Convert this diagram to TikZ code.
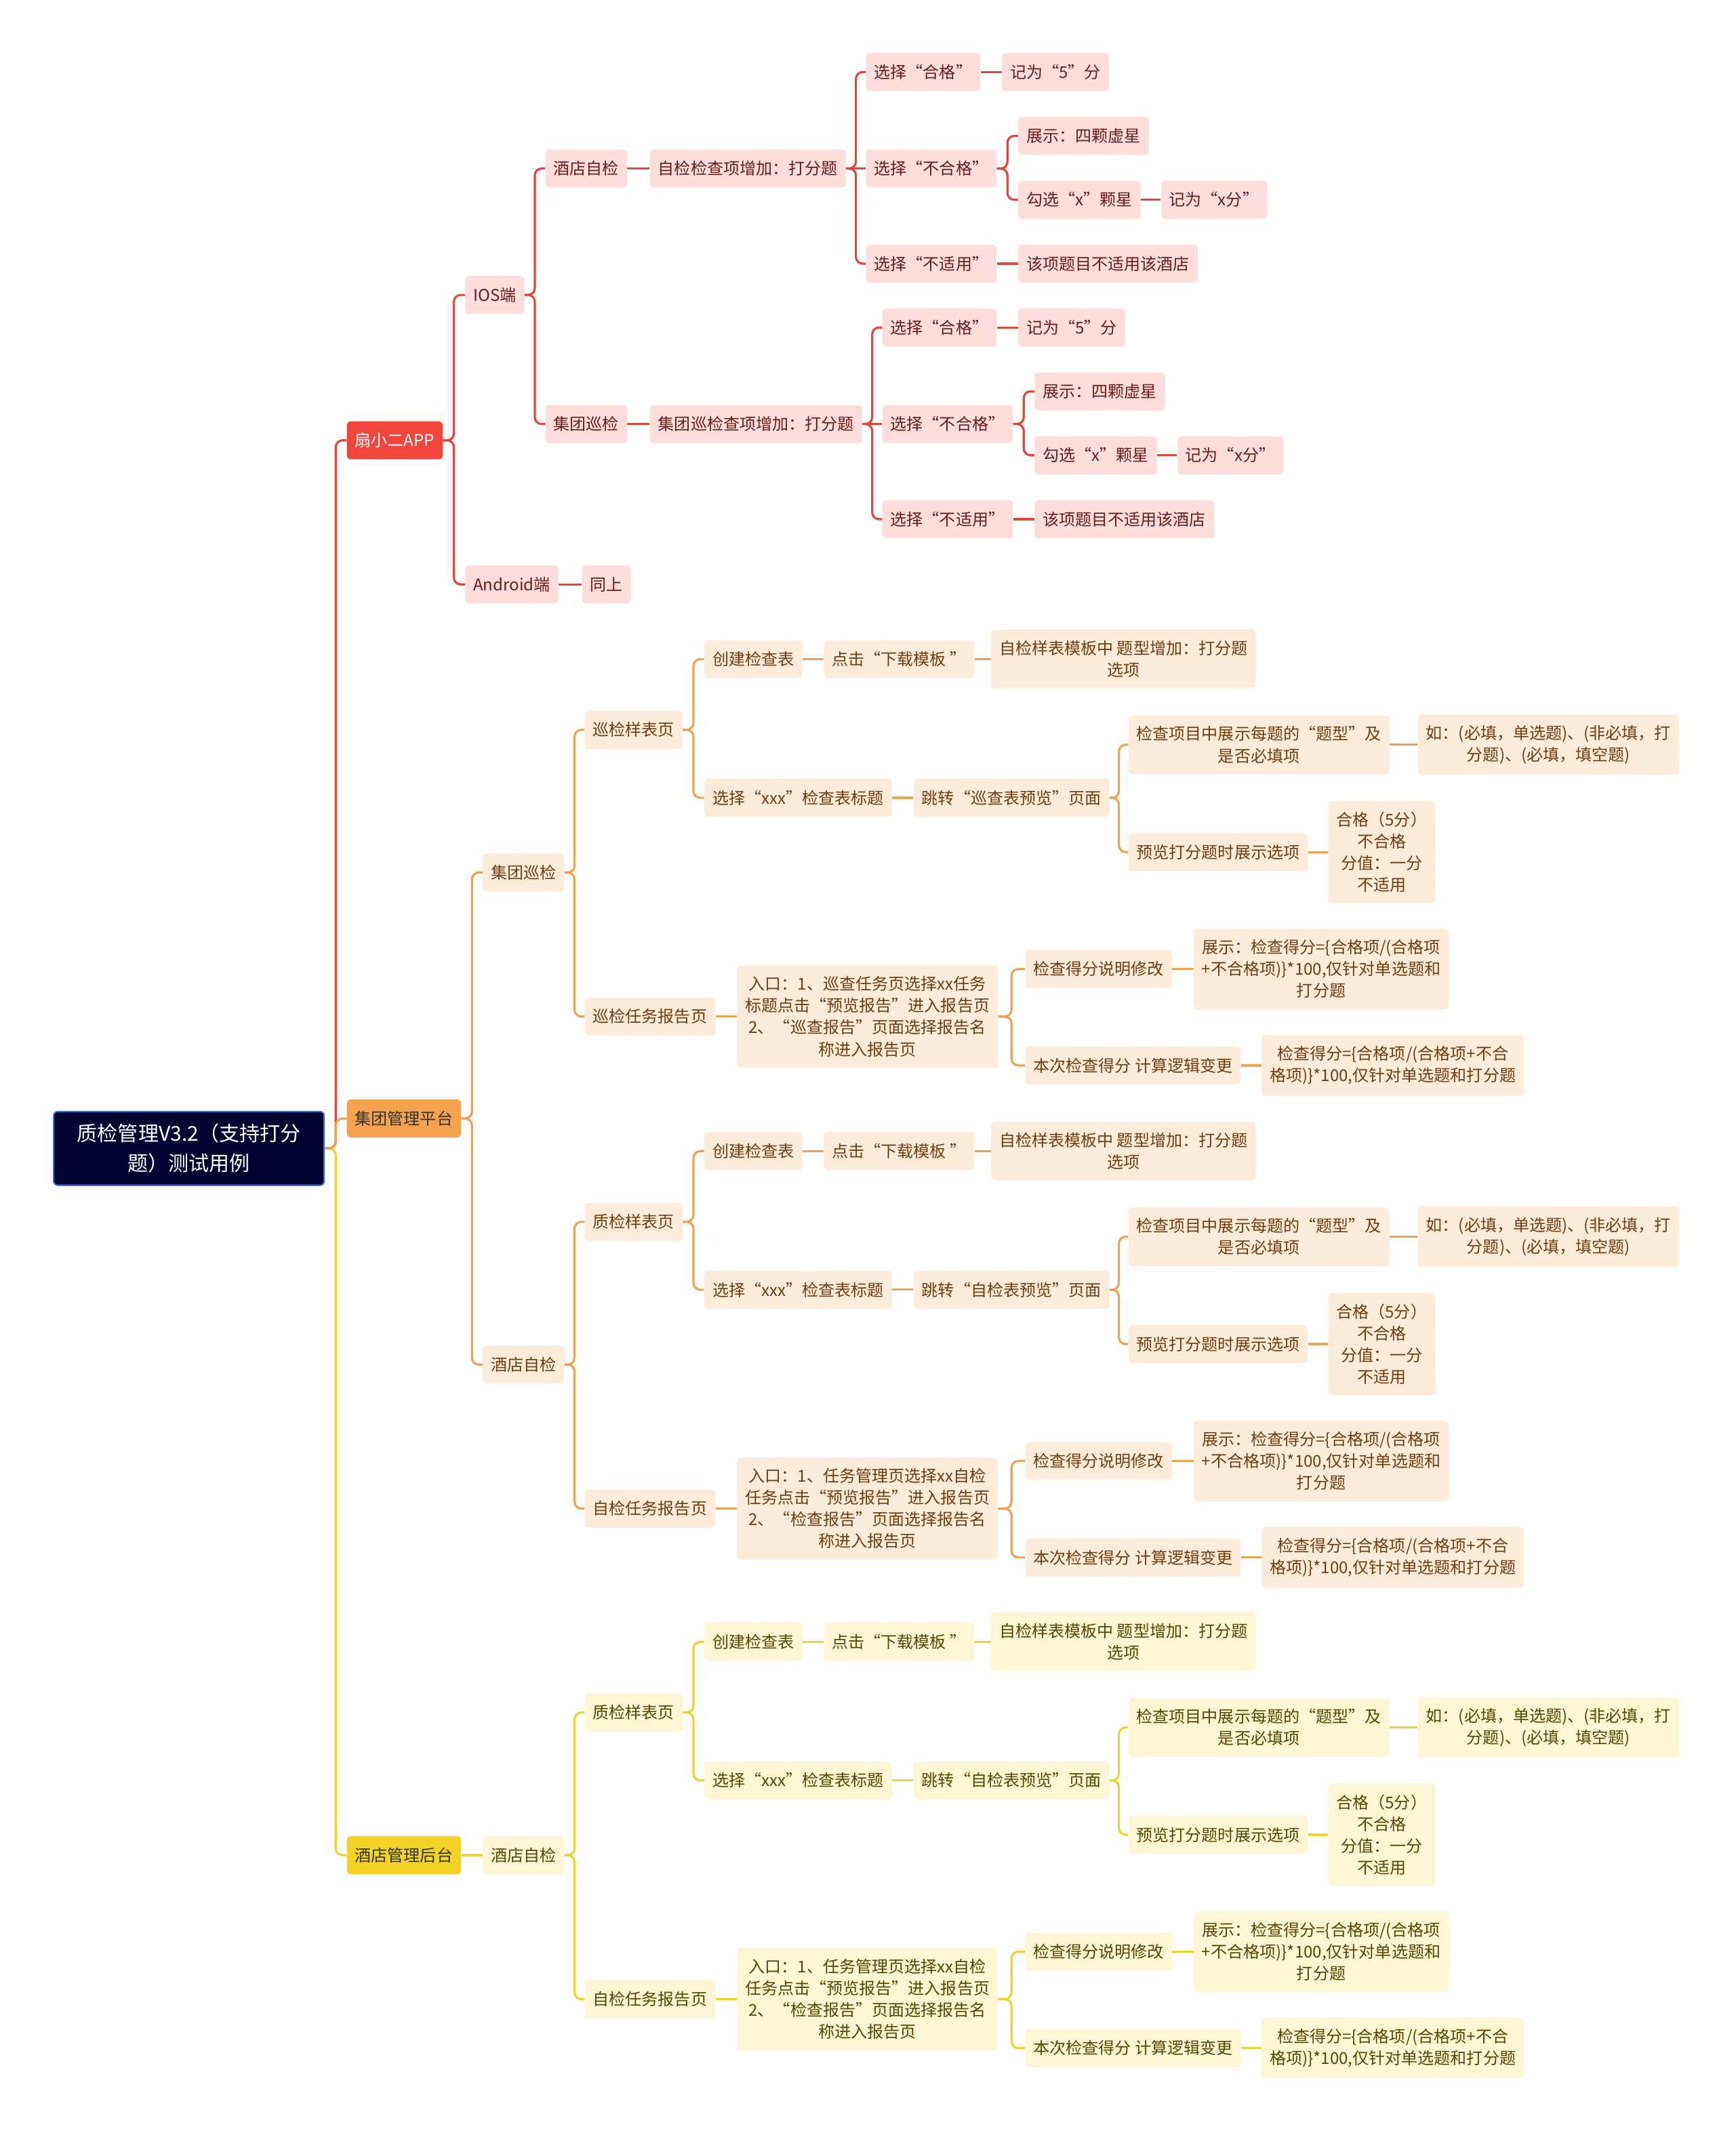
\documentclass[tikz,border=0pt]{standalone}
\usepackage{fontspec}
\setmainfont{Noto Sans CJK SC}
\usetikzlibrary{calc}

\definecolor{redM}{HTML}{F0453C}
\definecolor{redL}{HTML}{FDDEDC}
\definecolor{redT}{HTML}{6A1C18}
\definecolor{redE}{HTML}{E2463F}
\definecolor{orM}{HTML}{F4A24E}
\definecolor{orL}{HTML}{FDECDA}
\definecolor{orT}{HTML}{6E3D12}
\definecolor{orE}{HTML}{EFA254}
\definecolor{yeM}{HTML}{F2D326}
\definecolor{yeL}{HTML}{FDF6D4}
\definecolor{yeT}{HTML}{584600}
\definecolor{yeE}{HTML}{F0D22E}
\definecolor{rootF}{HTML}{03042F}
\definecolor{rootB}{HTML}{3D6FD6}

\begin{document}
\begin{tikzpicture}[
  x=1pt, y=-1pt,
  box/.style={rounded corners=3pt, inner xsep=6pt, inner ysep=8pt,
    minimum height=28pt, align=center, anchor=west,
    font=\fontsize{12}{16}\selectfont},
  sbox/.style={box, fill=#1L, text=#1T},
  mbox/.style={box, fill=#1M, text=black!80},
  link/.style={draw=#1E, line width=1.6pt, rounded corners=5pt}
]
  \useasboundingbox (0,0) rectangle (1277,1568);

  % 中心主题
  \node[box, fill=rootF, draw=rootB, line width=1pt, text=white,
    font=\fontsize{15}{22}\selectfont, minimum width=199pt, inner ysep=9pt]
    (root) at (39,845) {质检管理V3.2（支持打分\\题）测试用例};

  % 一级分支
  \node[mbox=red, text=white] (app) at (255,324) {扇小二APP};
  \node[mbox=or] (jt) at (255,823) {集团管理平台};
  \node[mbox=ye] (jd) at (255,1365) {酒店管理后台};

  % 扇小二APP
  \node[sbox=red] (ios) at (342,217) {IOS端};
  \node[sbox=red] (adr) at (342,430) {Android端};
  \node[sbox=red] (same) at (428,430) {同上};

  \foreach \n/\y/\dx/\s/\q in {hs/124/0/酒店自检/{自检检查项增加：打分题},
                                gp/312/12/集团巡检/{集团巡检查项增加：打分题}} {
    \node[sbox=red] (\n) at (401,\y) {\s};
    \node[sbox=red] (\n-q) at (478,\y) {\q};
    \node[sbox=red] (\n-1) at ({637+\dx},{\y-71}) {选择“合格”};
    \node[sbox=red] (\n-2) at ({637+\dx},\y) {选择“不合格”};
    \node[sbox=red] (\n-3) at ({637+\dx},{\y+70}) {选择“不适用”};
    \node[sbox=red] (\n-1a) at ({737+\dx},{\y-71}) {记为“5”分};
    \node[sbox=red] (\n-2a) at ({749+\dx},{\y-24}) {展示：四颗虚星};
    \node[sbox=red] (\n-2b) at ({749+\dx},{\y+23}) {勾选“x”颗星};
    \node[sbox=red] (\n-2c) at ({854+\dx},{\y+23}) {记为“x分”};
    \node[sbox=red] (\n-3a) at ({749+\dx},{\y+70}) {该项题目不适用该酒店};

    \foreach \a/\b in {\n/\n-q, \n-q/\n-2, \n-1/\n-1a, \n-2b/\n-2c, \n-3/\n-3a}
      \draw[link=red] (\a.east) -- (\b.west);
    \foreach \a/\b in {\n-q/\n-1, \n-q/\n-3, \n-2/\n-2a, \n-2/\n-2b}
      \draw[link=red] (\a.east) -- ($(\a.east)!.5!(\b.west |- \a.east)$) |- (\b.west);
  }

  % 集团管理平台 / 酒店管理后台
  \foreach \n/\y/\k/\s/\ta/\tb/\tc/\td in {
    g/642/or/集团巡检/巡检样表页/巡检任务报告页/{跳转“巡查表预览”页面}/{入口：1、巡查任务页选择xx任务\\标题点击“预览报告”进入报告页\\2、“巡查报告”页面选择报告名\\称进入报告页},
    h/1004/or/酒店自检/质检样表页/自检任务报告页/{跳转“自检表预览”页面}/{入口：1、任务管理页选择xx自检\\任务点击“预览报告”进入报告页\\2、“检查报告”页面选择报告名\\称进入报告页},
    b/1365/ye/酒店自检/质检样表页/自检任务报告页/{跳转“自检表预览”页面}/{入口：1、任务管理页选择xx自检\\任务点击“预览报告”进入报告页\\2、“检查报告”页面选择报告名\\称进入报告页}} {
    \node[sbox=\k] (\n) at (355,\y) {\s};
    \node[sbox=\k] (\n-s) at (430,{\y-105}) {\ta};
    \node[sbox=\k] (\n-r) at (430,{\y+106}) {\tb};
    \node[sbox=\k] (\n-c) at (518,{\y-157}) {创建检查表};
    \node[sbox=\k] (\n-d) at (606,{\y-157}) {点击“下载模板 ”};
    \node[sbox=\k] (\n-m) at (729,{\y-157}) {自检样表模板中 题型增加：打分题\\选项};
    \node[sbox=\k] (\n-x) at (518,{\y-55}) {选择“xxx”检查表标题};
    \node[sbox=\k] (\n-j) at (672,{\y-55}) {\tc};
    \node[sbox=\k] (\n-t) at (830,{\y-94}) {检查项目中展示每题的“题型”及\\是否必填项};
    \node[sbox=\k] (\n-e) at (1043,{\y-94}) {如：(必填，单选题)、(非必填，打\\分题)、(必填，填空题)};
    \node[sbox=\k] (\n-p) at (830,{\y-15}) {预览打分题时展示选项};
    \node[sbox=\k] (\n-o) at (977,{\y-15}) {合格（5分）\\不合格\\分值：一分\\不适用};
    \node[sbox=\k] (\n-i) at (542,{\y+106}) {\td};
    \node[sbox=\k] (\n-u) at (754,{\y+71}) {检查得分说明修改};
    \node[sbox=\k] (\n-f) at (878,{\y+71}) {展示：检查得分=\{合格项/(合格项\\+不合格项)\}*100,仅针对单选题和\\打分题};
    \node[sbox=\k] (\n-k) at (754,{\y+142}) {本次检查得分 计算逻辑变更};
    \node[sbox=\k] (\n-z) at (928,{\y+142}) {检查得分=\{合格项/(合格项+不合\\格项)\}*100,仅针对单选题和打分题};

    \foreach \a/\b in {\n-c/\n-d, \n-d/\n-m, \n-x/\n-j, \n-t/\n-e,
                       \n-p/\n-o, \n-r/\n-i, \n-u/\n-f, \n-k/\n-z}
      \draw[link=\k] (\a.east) -- (\b.west);
    \foreach \a/\b in {\n/\n-s, \n/\n-r, \n-s/\n-c, \n-s/\n-x,
                       \n-j/\n-t, \n-j/\n-p, \n-i/\n-u, \n-i/\n-k}
      \draw[link=\k] (\a.east) -- ($(\a.east)!.5!(\b.west |- \a.east)$) |- (\b.west);
  }

  % 连线
  \foreach \a/\b in {app/ios, app/adr, ios/hs, ios/gp}
    \draw[link=red] (\a.east) -- ($(\a.east)!.5!(\b.west |- \a.east)$) |- (\b.west);
  \draw[link=red] (adr.east) -- (same.west);
  \draw[link=red] (root.east) -- ($(root.east)!.5!(app.west |- root.east)$) |- (app.west);
  \draw[link=ye] (root.east) -- ($(root.east)!.5!(jd.west |- root.east)$) |- (jd.west);
  \draw[link=ye] (jd.east) -- (b.west);
  \draw[link=or] (root.east) -- ($(root.east)!.5!(jt.west |- root.east)$) |- (jt.west);
  \foreach \b in {g, h}
    \draw[link=or] (jt.east) -- ($(jt.east)!.5!(\b.west |- jt.east)$) |- (\b.west);

\end{tikzpicture}
\end{document}
